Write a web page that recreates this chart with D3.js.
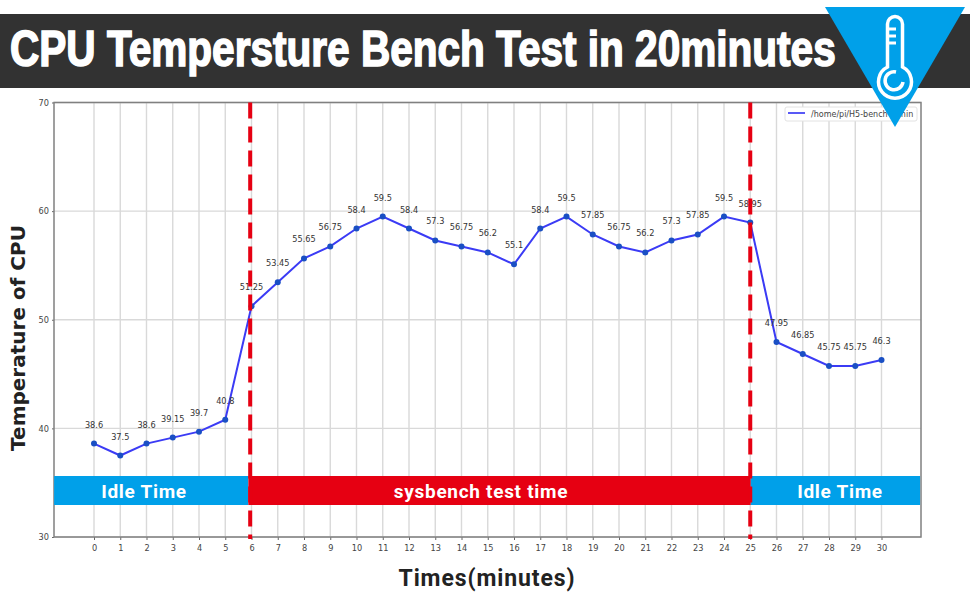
<!DOCTYPE html>
<html>
<head>
<meta charset="utf-8">
<script src="https://cdn.jsdelivr.net/npm/d3@7"></script>
<style>
    html, body { margin: 0; padding: 0; background: #fff; }
    svg { display: block; }
    text { font-family: "DejaVu Sans", sans-serif; }
</style>
</head>
<body>
<div id="chart"></div>
<script>
// one reading per minute
var minutes = d3.range(0, 31);
var temps = [38.6, 37.5, 38.6, 39.15, 39.7, 40.8, 51.25, 53.45, 55.65, 56.75, 58.4, 59.5, 58.4, 57.3, 56.75, 56.2,
    55.1, 58.4, 59.5, 57.85, 56.75, 56.2, 57.3, 57.85, 59.5, 58.95, 47.95, 46.85, 45.75, 45.75, 46.3];
var tempLabels = ["38.6", "37.5", "38.6", "39.15", "39.7", "40.8", "51.25", "53.45", "55.65", "56.75", "58.4", "59.5", "58.4", "57.3", "56.75", "56.2",
    "55.1", "58.4", "59.5", "57.85", "56.75", "56.2", "57.3", "57.85", "59.5", "58.95", "47.95", "46.85", "45.75", "45.75", "46.3"];
var yTicks = [30, 40, 50, 60, 70];
var phaseNames = ["Idle Time", "sysbench test time", "Idle Time"];
var phaseStarts = [-1.52, 5.88, 25.02];
var phaseEnds = [5.88, 25.02, 31.47];
var phaseColors = ["#00a0e9", "#e60012", "#00a0e9"];
var markers = [5.95, 25];

var width = 970, height = 600;
var svg = d3.select("#chart").append("svg").attr("width", width).attr("height", height);

var x = d3.scaleLinear().domain([0, 30]).range([94, 881.5]);
var y = d3.scaleLinear().domain([30, 70]).range([537, 102.5]);
var left = 54, right = 921;

// grid
svg.append("g").selectAll("line").data(minutes).enter().append("line")
    .attr("x1", d => x(d)).attr("x2", d => x(d))
    .attr("y1", y(30)).attr("y2", y(70))
    .attr("stroke", "#d9d9d9").attr("stroke-width", 1.4);
svg.append("g").selectAll("line").data(yTicks).enter().append("line")
    .attr("x1", left).attr("x2", right)
    .attr("y1", d => y(d)).attr("y2", d => y(d))
    .attr("stroke", "#d9d9d9").attr("stroke-width", 1.4);

// axes
var xAxis = svg.append("g").attr("transform", `translate(0,${y(30)})`)
    .call(d3.axisBottom(x).tickValues(minutes).tickFormat(d3.format("d")).tickSize(3).tickPadding(5));
var yAxis = svg.append("g").attr("transform", `translate(${left},0)`)
    .call(d3.axisLeft(y).tickValues(yTicks).tickSize(2).tickPadding(3));
[xAxis, yAxis].forEach(function(axis) {
    axis.select(".domain").remove();
    axis.selectAll("line").attr("stroke", "#666");
    axis.selectAll("text").attr("fill", "#444").attr("font-size", 8.2);
});
svg.append("rect")
    .attr("x", left).attr("y", y(70))
    .attr("width", right - left).attr("height", y(30) - y(70))
    .attr("fill", "none").attr("stroke", "#808080").attr("stroke-width", 1.5);

// series
var line = d3.line().x((d, i) => x(minutes[i])).y(d => y(d));
svg.append("path").datum(temps)
    .attr("d", line)
    .attr("fill", "none").attr("stroke", "#3b3bf5").attr("stroke-width", 2);
svg.append("g").selectAll("circle").data(temps).enter().append("circle")
    .attr("cx", (d, i) => x(minutes[i])).attr("cy", d => y(d)).attr("r", 3)
    .attr("fill", "#1a4fc4");
svg.append("g").selectAll("text").data(temps).enter().append("text")
    .attr("x", (d, i) => x(minutes[i])).attr("y", d => y(d) - 16)
    .attr("text-anchor", "middle").attr("font-size", 8.2).attr("fill", "#333")
    .text((d, i) => tempLabels[i]);

// legend
var legend = svg.append("g");
legend.append("rect")
    .attr("x", 785).attr("y", 107).attr("width", 132).attr("height", 14).attr("rx", 2)
    .attr("fill", "#fff").attr("stroke", "#e2e2e2");
legend.append("line")
    .attr("x1", 788).attr("x2", 805).attr("y1", 113).attr("y2", 113)
    .attr("stroke", "#3b3bf5").attr("stroke-width", 1.7);
legend.append("text")
    .attr("x", 811).attr("y", 116.5).attr("font-size", 8).attr("fill", "#444")
    .text("/home/pi/H5-bench-1.min");

// phase bands
var bandTop = 476, bandH = 29;
svg.append("g").selectAll("rect").data(phaseNames).enter().append("rect")
    .attr("x", (d, i) => x(phaseStarts[i]))
    .attr("y", bandTop)
    .attr("width", (d, i) => x(phaseEnds[i]) - x(phaseStarts[i]))
    .attr("height", bandH)
    .attr("fill", (d, i) => phaseColors[i]);
svg.append("g").selectAll("text").data(phaseNames).enter().append("text")
    .attr("x", (d, i) => i == 0 ? 144 : i == 1 ? 481 : 840)
    .attr("y", bandTop + 22)
    .attr("text-anchor", "middle")
    .attr("fill", "#fff")
    .attr("font-size", 19)
    .attr("font-weight", "bold")
    .style("font-family", "Roboto, sans-serif")
    .style("letter-spacing", "0.7px")
    .text(d => d);

// red dashed markers at start and end of test
svg.append("g").selectAll("line").data(markers).enter().append("line")
    .attr("x1", d => x(d)).attr("x2", d => x(d))
    .attr("y1", y(70)).attr("y2", 539)
    .attr("stroke", "#e60012").attr("stroke-width", 4)
    .attr("stroke-dasharray", "16,8");

// axis titles
svg.append("text")
    .attr("transform", "translate(25,338) rotate(-90)")
    .attr("text-anchor", "middle")
    .attr("font-size", 20).attr("font-weight", "bold").attr("fill", "#222")
    .text("Temperature of CPU");
svg.append("text")
    .attr("x", 487).attr("y", 586)
    .attr("text-anchor", "middle")
    .attr("font-size", 23).attr("font-weight", "bold").attr("fill", "#222")
    .style("font-family", "Roboto, sans-serif")
    .style("letter-spacing", "0.9px")
    .text("Times(minutes)");

// title banner
svg.append("rect").attr("x", 0).attr("y", 14).attr("width", width).attr("height", 74).attr("fill", "#323232");
svg.append("text")
    .attr("transform", "translate(10,66) scale(0.882,1.07)")
    .attr("fill", "#fff").attr("stroke", "#fff").attr("stroke-width", 1.5)
    .attr("font-size", 46).attr("font-weight", "bold")
    .style("font-family", "'Liberation Sans Narrow', sans-serif")
    .text("CPU Tempersture Bench Test in 20minutes");

// badge with thermometer
svg.append("path").attr("d", "M825,7H965L895,127Z").attr("fill", "#00a0e9");
svg.append("path")
    .attr("d", "M887.5,67 V24 a7.5,7.5 0 0 1 15,0 V67 a16.5,16.5 0 1 1 -15,0 Z")
    .attr("fill", "none").attr("stroke", "#fff").attr("stroke-width", 3.5);
svg.append("path")
    .attr("d", "M889,29H896M889,36H896M889,43H896")
    .attr("fill", "none").attr("stroke", "#fff").attr("stroke-width", 3);
svg.append("path")
    .attr("d", "M903,82 a9,9 0 1 1 -7,-10")
    .attr("fill", "none").attr("stroke", "#fff").attr("stroke-width", 3.5);
</script>
</body>
</html>
